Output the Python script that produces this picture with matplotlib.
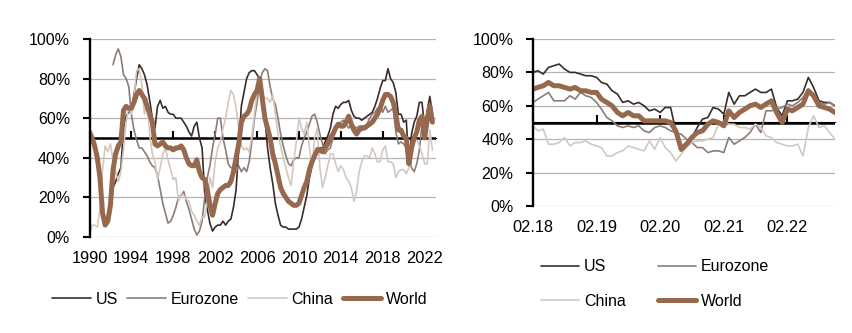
import numpy as np
import pandas as pd
import matplotlib
matplotlib.use('Agg')
import matplotlib.pyplot as plt
import matplotlib.dates as mdates
from matplotlib.ticker import PercentFormatter, MultipleLocator, NullFormatter

plt.rcParams['font.family'] = ['Liberation Sans', 'DejaVu Sans']

# ---- long history, quarterly 1990Q1 - 2022Q4 (in %) ----
us_long = [52, 48, 44, 36,  25, 12, 8, 10,  15, 25, 28, 32,  35, 55, 61, 63,
           64, 72, 80, 87,  85, 82, 77, 69,  60, 55, 66, 69,  65, 66, 63, 62,
           62, 60, 60, 60,  58, 56, 53, 51,  56, 58, 50, 45,  22, 14, 7, 3,
           5, 6, 6, 8,  6, 8, 9, 15,  24, 45, 66, 73,  80, 83, 84, 84,
           82, 80, 72, 60,  45, 35, 27, 17,  11, 6, 5, 5,  4, 4, 4, 4,
           5, 9, 15, 21,  30, 36, 41, 45,  45, 45, 48, 51,  55, 62, 66, 65,
           67, 68, 68, 69,  64, 61, 60, 60,  59, 60, 61, 62,  63, 66, 70, 75,
           79, 79, 85, 80,  78, 73, 62, 62,  58, 59, 36, 52,  58, 61, 68, 68,
           55, 64, 71, 62]
ez_long = [np.nan] * 9 + [87, 92, 95,  91, 82, 80, 76,
           62, 54, 49, 45,  45, 43, 41, 38,  36, 35, 31, 24,  17, 12, 7, 8,
           11, 15, 20, 21,  23, 18, 14, 9,  4, 1, 3, 8,  20, 30, 36, 45,
           52, 60, 60, 50,  44, 37, 35, 35,  33, 36, 33, 35,  33, 38, 48, 60,
           68, 78, 83, 85,  84, 76, 70, 67,  60, 52, 46, 41,  37, 36, 39, 40,
           40, 46, 50, 53,  57, 61, 62, 58,  52, 47, 42, 44,  45, 50, 54, 57,
           58, 59, 57, 55,  57, 56, 55, 56,  56, 56, 57, 60,  62, 63, 65, 66,
           63, 66, 63, 64,  65, 53, 47, 48,  47, 45, 40, 35,  33, 37, 44, 57,
           59, 62, 66, 62]
cn_long = [1, 6, 6, 5,  14, 34, 46, 43,  47, 39, 33, 28,  33, 44, 58, 66,
           62, 70, 84, 85,  77, 62, 70, 52,  42, 38, 29, 35,  42, 45, 39, 34,
           29, 30, 18, 22,  21, 19, 18, 13,  11, 8, 6, 10,  10, 18, 30, 25,
           38, 45, 48, 55,  60, 68, 74, 72,  65, 55, 46, 44,  45, 43, 51, 62,
           73, 75, 72, 70,  70, 68, 72, 62,  52, 46, 40, 35,  30, 26, 38, 48,
           60, 55, 52, 58,  45, 36, 50, 55,  35, 25, 30, 36,  42, 42, 37, 33,
           36, 34, 30, 28,  25, 18, 23, 33,  38, 41, 41, 40,  45, 42, 38, 38,
           44, 46, 38, 38,  37, 30, 33, 34,  34, 32, 35, 39,  49, 49, 46, 42,
           37, 37, 54, 44]
world_long = [53, 50, 46, 40,  30, 12, 6, 8,  16, 34, 42, 46,  48, 64, 66, 65,
              65, 68, 72, 74,  72, 70, 66, 62,  58, 47, 46, 47,  48, 46, 45, 45,
              44, 45, 45, 46,  44, 40, 37, 36,  36, 39, 33, 30,  29, 24, 16, 11,
              17, 22, 24, 25,  26, 26, 28, 33,  40, 47, 58, 61,  62, 64, 69, 72,
              74, 80, 70, 60,  55, 50, 42, 37,  31, 25, 22, 20,  18, 17, 16, 16,
              17, 21, 25, 28,  34, 38, 41, 44,  44, 43, 45, 47,  50, 52, 55, 57,
              56, 56, 58, 61,  57, 54, 52, 54,  55, 55, 56, 57,  58, 60, 62, 65,
              69, 72, 72, 71,  68, 62, 54, 54,  51, 50, 37, 45,  50, 53, 59, 61,
              50, 59, 66, 58]

# ---- recent history, monthly Feb 2018 - Nov 2022 (in %) ----
us_recent = [80, 81, 79, 83, 84, 85, 82, 80, 80, 79, 78, 78,
             77, 74, 73, 69, 67, 62, 63, 61, 62, 60, 57, 58,
             56, 59, 59, 45, 33, 36, 41, 47, 52, 53, 59, 58,
             55, 68, 61, 66, 66, 68, 70, 68, 68, 70, 59, 54,
             63, 63, 64, 68, 77, 71, 63, 62, 62, 60]
ez_recent = [62, 64, 66, 68, 63, 63, 63, 66, 64, 68, 66, 65,
             62, 58, 53, 51, 48, 47, 48, 47, 48, 45, 44, 47,
             48, 47, 45, 44, 43, 40, 38, 35, 35, 32, 33, 33,
             32, 41, 37, 39, 41, 44, 49, 44, 57, 57, 58, 59,
             61, 60, 62, 65, 70, 66, 62, 61, 62, 60]
cn_recent = [48, 45, 46, 37, 37, 38, 41, 36, 38, 38, 39, 37,
             36, 35, 30, 30, 32, 33, 36, 35, 34, 33, 39, 34,
             41, 35, 32, 27, 31, 35, 38, 39, 39, 40, 41, 49,
             51, 49, 49, 47, 47, 46, 49, 47, 42, 41, 38, 37,
             36, 36, 37, 30, 47, 54, 47, 48, 44, 40]
world_recent = [70, 71, 72, 74, 72, 72, 71, 70, 71, 69, 69, 68,
                68, 64, 62, 60, 56, 54, 56, 54, 54, 51, 51, 51,
                51, 51, 50, 45, 34, 37, 41, 44, 45, 49, 51, 50,
                48, 57, 53, 56, 58, 60, 61, 59, 61, 63, 56, 50,
                58, 57, 59, 61, 69, 66, 60, 59, 58, 56]

names = ['US', 'Eurozone', 'China', 'World']
colors = ['#3a2c2a', '#8b7d76', '#d3c8c0', '#96694f']
widths = [1.2, 1.2, 1.2, 3.6]

dates_long = pd.date_range('1990-01-01', periods=len(us_long), freq='QS')
dates_recent = pd.date_range('2018-02-01', periods=len(us_recent), freq='MS')
ticks_long = pd.date_range('1990-01-01', '2022-01-01', freq='4YS')
ticks_recent = pd.date_range('2018-02-01', '2022-02-01', freq='12MS')

fig = plt.figure(figsize=(8.52, 3.33), dpi=100)
ax1 = fig.add_axes([89.5/852, 1 - 237/333, (436 - 89.5)/852, 198/333])
ax2 = fig.add_axes([533/852, 1 - 206/333, (835 - 533)/852, 167/333])


def style(ax, ticks, fmt):
    ax.set_ylim(0, 100)
    ax.yaxis.set_major_locator(MultipleLocator(20))
    ax.yaxis.set_major_formatter(PercentFormatter(100, decimals=0))
    ax.grid(axis='y', color='#b4b4b4', lw=0.9)
    ax.set_axisbelow(True)
    for s in ['top', 'right', 'bottom']:
        ax.spines[s].set_visible(False)
    ax.spines['left'].set_linewidth(1.7)
    ax.tick_params(axis='y', direction='out', length=5, width=1.5, pad=9,
                   labelsize=11.5, colors='black')
    ax.tick_params(axis='x', length=0, pad=10, labelsize=11.8)
    ax.set_xticks(ticks)
    ax.xaxis.set_major_formatter(mdates.DateFormatter(fmt))
    # axis line crossing at 50%, with its tick marks
    ax.axhline(50, color='black', lw=1.8, zorder=1.5)
    sec = ax.secondary_xaxis(0.5)
    sec.set_xticks(mdates.date2num(ticks))
    sec.xaxis.set_major_formatter(NullFormatter())
    sec.tick_params(axis='x', direction='out', length=5, width=1.5)
    sec.spines['bottom'].set_visible(False)


lines1 = []
for vals, n, c, w in zip([us_long, ez_long, cn_long, world_long], names, colors, widths):
    l, = ax1.plot(dates_long, vals, color=c, lw=w, label=n, solid_capstyle='round')
    lines1.append(l)
ax1.set_xlim(pd.Timestamp('1990-01-01'), pd.Timestamp('2023-02-01'))
style(ax1, ticks_long, '%Y')

lines2 = []
for vals, n, c, w in zip([us_recent, ez_recent, cn_recent, world_recent], names, colors, widths):
    l, = ax2.plot(dates_recent, vals, color=c, lw=w, label=n, solid_capstyle='round')
    lines2.append(l)
ax2.set_xlim(dates_recent[0], dates_recent[-1])
style(ax2, ticks_recent, '%m.%y')

fig.legend(lines1, names, loc='center', bbox_to_anchor=(240/852, 1 - 299/333),
           ncol=4, frameon=False, fontsize=11.5, handlelength=2.4,
           handletextpad=0.3, columnspacing=0.6)
order = [0, 2, 1, 3]
fig.legend([lines2[i] for i in order], [names[i] for i in order], loc='center',
           bbox_to_anchor=(655/852, 1 - 284/333), ncol=2, frameon=False,
           fontsize=11.5, handlelength=2.4, handletextpad=0.3,
           columnspacing=2.0, labelspacing=1.2)

fig.savefig('out.png', dpi=100)
